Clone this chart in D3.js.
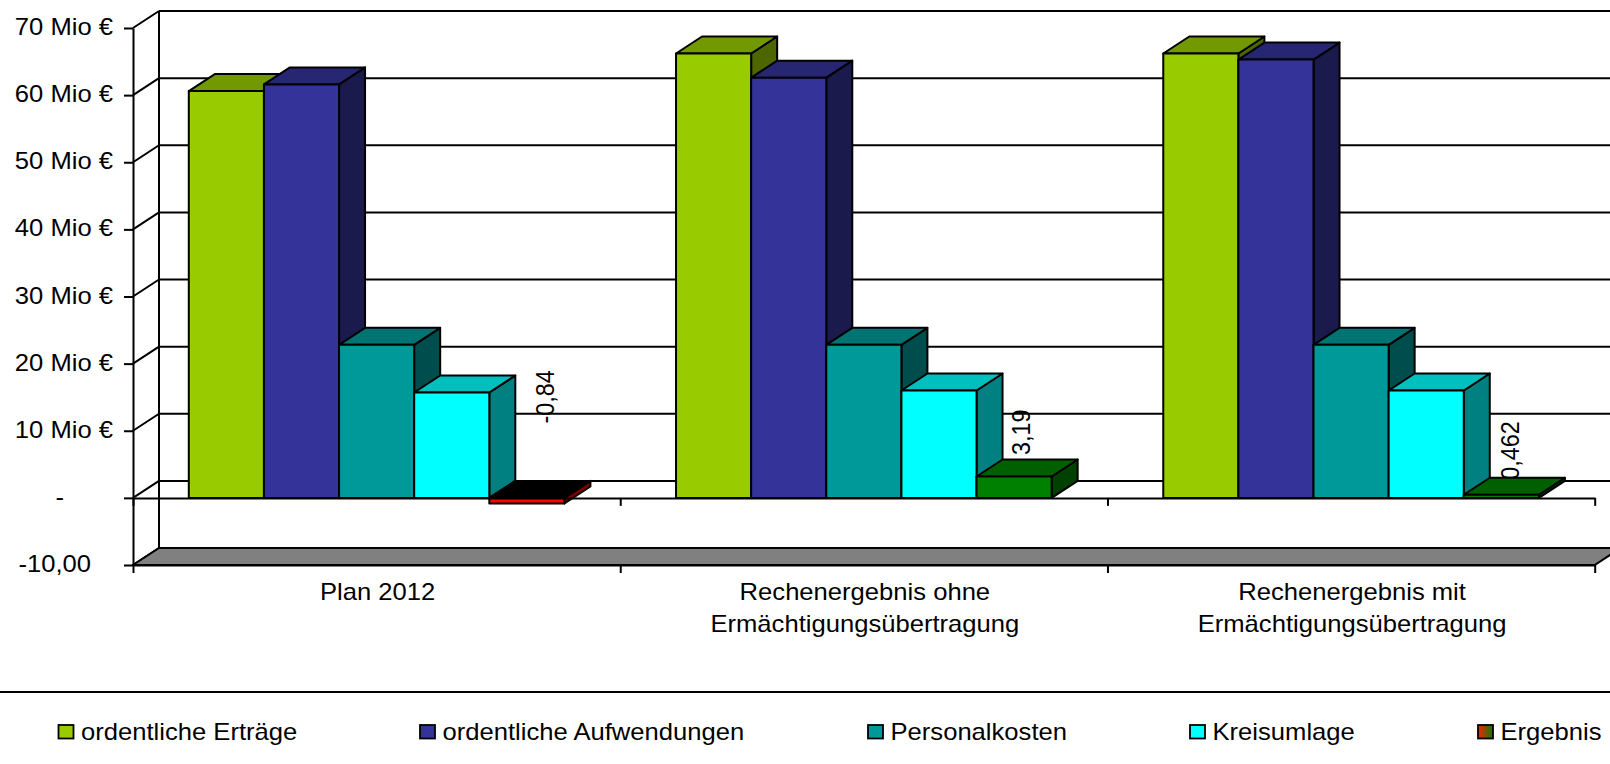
<!DOCTYPE html>
<html><head><meta charset="utf-8">
<script src="https://cdn.jsdelivr.net/npm/d3@7/dist/d3.min.js"></script>
<style>html,body{margin:0;padding:0;background:#fff;overflow:hidden}svg{display:block}
text{font-family:"Liberation Sans",Arial,sans-serif;font-size:23.4px;fill:#000}</style>
</head><body><svg id="c" width="1610" height="764"></svg>
<script>
const categories = [["Plan 2012"],["Rechenergebnis ohne","Ermächtigungsübertragung"],["Rechenergebnis mit","Ermächtigungsübertragung"]];
const seriesNames = ["ordentliche Erträge","ordentliche Aufwendungen","Personalkosten","Kreisumlage","Ergebnis"];
const ertraege = [60.6,66.2,66.2];
const aufwendungen = [61.6,62.6,65.3];
const personalkosten = [22.8,22.8,22.8];
const kreisumlage = [15.7,16.0,16.0];
const ergebnis = [-0.84,3.19,0.462];
const yTicks = [-10,0,10,20,30,40,50,60,70];
const yTickLabels = ["-10,00","-","10 Mio €","20 Mio €","30 Mio €","40 Mio €","50 Mio €","60 Mio €","70 Mio €"];
const allSeries = [ertraege,aufwendungen,personalkosten,kreisumlage,ergebnis];
const colors = [
 {f:"#99cc00",t:"#739900",s:"#4d6600"},
 {f:"#333399",t:"#262673",s:"#1a1a4d"},
 {f:"#009999",t:"#007373",s:"#004d4d"},
 {f:"#00ffff",t:"#00bfbf",s:"#008080"}];
const posColor={f:"#008000",t:"#006000",s:"#004000"}, negColor={f:"#ff0000",t:"#000000",s:"#800000"};

const svg=d3.select("#c");
const SX=1.095, DX=26, DY=-17, LW=2;
const y=d3.scaleLinear().domain([-10,70]).range([565,28]);
const x0=d3.scaleBand().domain(d3.range(categories.length)).range([133,1594.7]);
const bandPad=55.8;
const x1=d3.scaleBand().domain(d3.range(seriesNames.length)).range([bandPad,x0.bandwidth()-bandPad]);
const line=(g,a,b,c,d,w=LW)=>g.append("line").attr("x1",a).attr("y1",b).attr("x2",c).attr("y2",d).attr("stroke","#000").attr("stroke-width",w);
const right=1610+DX;

// back wall + side wall
const wall=svg.append("g");
yTicks.forEach(t=>{
  if(t>-10) line(wall,x0.range()[0]+DX,y(t)+DY,right,y(t)+DY);
  line(wall,x0.range()[0],y(t),x0.range()[0]+DX,y(t)+DY);
});
line(wall,x0.range()[0]+DX,y(70)+DY,x0.range()[0]+DX,y(-10)+DY,2);

// floor
svg.append("polygon").attr("points",[[x0.range()[0],y(-10)],[x0.range()[1],y(-10)],[x0.range()[1]+DX,y(-10)+DY],[x0.range()[0]+DX,y(-10)+DY]].join(" "))
  .attr("fill","#808080").attr("stroke","#000").attr("stroke-width",2);

// y axis
const yAxis=svg.append("g").attr("transform",`translate(${x0.range()[0]},0)`)
  .call(d3.axisLeft(y).tickValues(yTicks).tickSize(9).tickSizeOuter(0).tickFormat((d,i)=>yTickLabels[i]));
yAxis.select(".domain").attr("stroke","#000").attr("stroke-width",2);
yAxis.selectAll(".tick line").attr("stroke","#000").attr("stroke-width",LW);
yAxis.selectAll(".tick text").each(function(d){
  const t=d3.select(this);
  t.attr("x",null).attr("y",null).attr("dy",null).style("font-size","23.4px").style("font-family",'"Liberation Sans"');
  const endX = d===-10 ? 91 : d===0 ? 64 : 113;
  t.attr("text-anchor","end")
   .attr("transform",`translate(${endX-x0.range()[0]},6.5) scale(${SX},1)`);
});

// data labels, behind the bars
const labelDx=[55.5,44,46], labelBottom=[-80,-21.5,-15];
ergebnis.forEach((v,i)=>{
  const cx=x0(i)+x1(4)+labelDx[i];
  const base=y(v)+labelBottom[i];
  svg.append("text").text(String(v).replace(".",","))
    .attr("transform",`translate(${cx+9},${base}) scale(${SX},1) rotate(-90)`);
});

// bars
const bars=svg.append("g");
categories.forEach((c,i)=>{
  allSeries.forEach((arr,s)=>{
    const v=arr[i];
    const col=s<4?colors[s]:(v<0?negColor:posColor);
    const a=x0(i)+x1(s), w=x1.bandwidth(), b=a+w;
    const top=y(Math.max(v,0)), bot=y(Math.min(v,0));
    const g=bars.append("g").attr("stroke","#000").attr("stroke-width",LW).attr("stroke-linejoin","round");
    g.append("polygon").attr("points",[[b,top],[b+DX,top+DY],[b+DX,bot+DY],[b,bot]].join(" ")).attr("fill",col.s);
    g.append("polygon").attr("points",[[a,top],[a+DX,top+DY],[b+DX,top+DY],[b,top]].join(" ")).attr("fill",col.t);
    g.append("rect").attr("x",a).attr("y",top).attr("width",w).attr("height",bot-top).attr("fill",col.f);
  });
});

// category axis (at zero and below the floor)
const xTickVals=d3.range(categories.length+1);
const xPos=d3.scaleLinear().domain([0,categories.length]).range(x0.range());
[0,-10].forEach(v=>{
  const ax=svg.append("g").attr("transform",`translate(0,${y(v)})`)
    .call(d3.axisBottom(xPos).tickValues(xTickVals).tickSize(8).tickSizeOuter(0).tickFormat(""));
  ax.select(".domain").attr("stroke","#000").attr("stroke-width",2);
  ax.selectAll(".tick line").attr("stroke","#000").attr("stroke-width",LW);
});
categories.forEach((lines,i)=>{
  lines.forEach((l,j)=>{
    svg.append("text").text(l).attr("text-anchor","middle")
      .attr("transform",`translate(${x0(i)+x0.bandwidth()/2+1},${600+j*31.7}) scale(${SX},1)`);
  });
});

// legend
line(svg,0,692,1610,692,2);
const defs=svg.append("defs");
const gr=defs.append("linearGradient").attr("id","erg");
gr.append("stop").attr("offset","0").attr("stop-color","#ff2000");
gr.append("stop").attr("offset","1").attr("stop-color","#008000");
const legendX=d3.scaleOrdinal().domain(seriesNames).range([58.5,420,868,1190,1478]);
seriesNames.forEach((n,i)=>{
  const lx=legendX(n);
  svg.append("rect").attr("x",lx).attr("y",725).attr("width",15).attr("height",13.5)
    .attr("fill",i<4?colors[i].f:"url(#erg)").attr("stroke","#000").attr("stroke-width",1.8);
  svg.append("text").text(n).attr("transform",`translate(${lx+22.5},739.5) scale(${SX},1)`);
});
</script></body></html>
